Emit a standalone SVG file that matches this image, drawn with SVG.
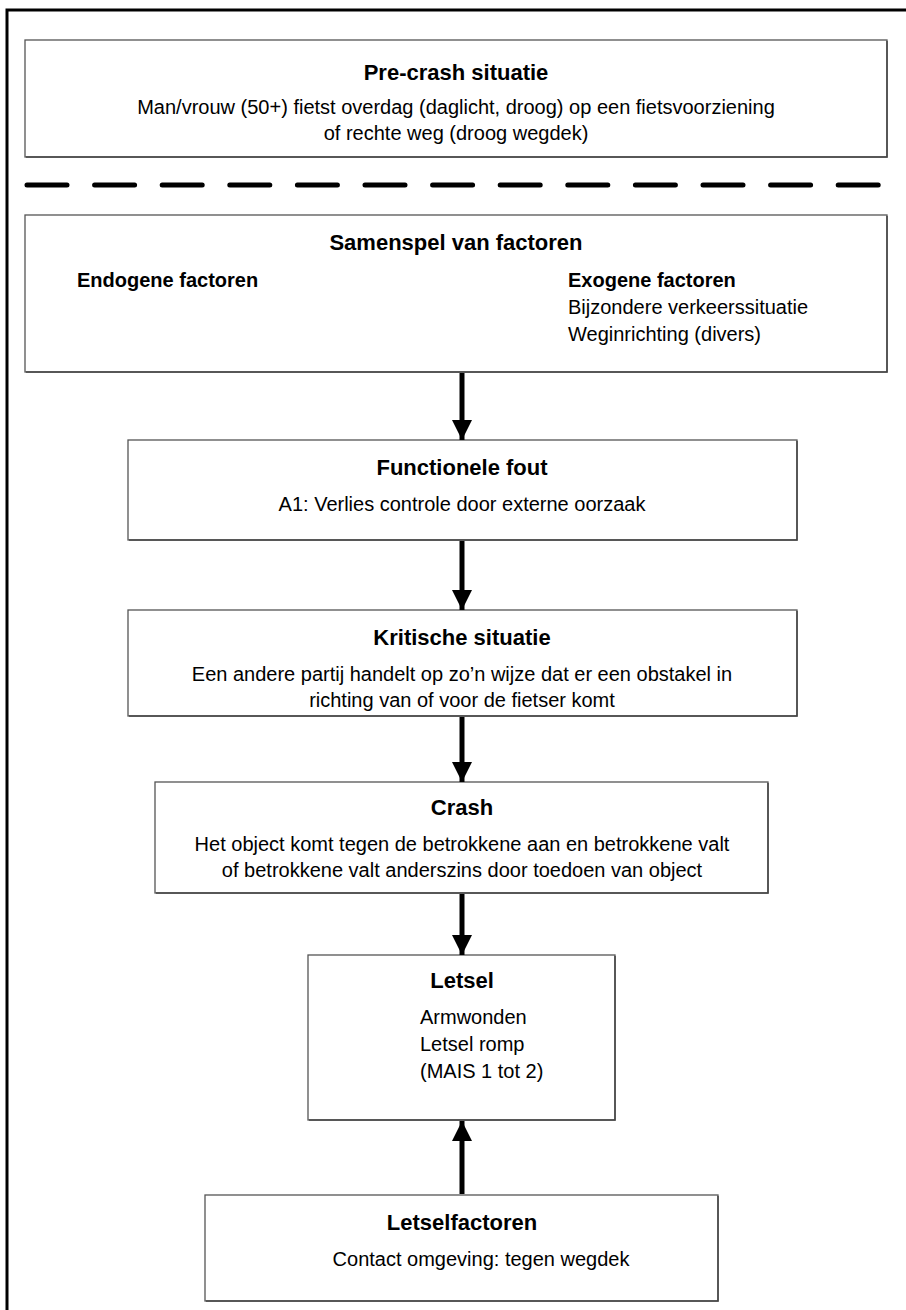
<svg xmlns="http://www.w3.org/2000/svg" width="906" height="1310" viewBox="0 0 906 1310">
<defs>
<style>
.box{fill:#fff;stroke:#555;stroke-width:1.3}
.shadow{fill:none;stroke:#444;stroke-width:1.5}
.t{font-family:"Liberation Sans",Arial,sans-serif;font-size:22px;font-weight:bold;fill:#000;text-anchor:middle}
.b{font-family:"Liberation Sans",Arial,sans-serif;font-size:20px;fill:#000;text-anchor:middle}
.bl{font-family:"Liberation Sans",Arial,sans-serif;font-size:20px;fill:#000}
.hl{font-family:"Liberation Sans",Arial,sans-serif;font-size:20px;font-weight:bold;fill:#000}
.arr{stroke:#000;stroke-width:5;fill:none}
.frame{stroke:#000;stroke-width:3;fill:none}
</style>
<marker id="ah" viewBox="0 0 20 30" refX="20" refY="15" markerWidth="20" markerHeight="30" markerUnits="userSpaceOnUse" orient="auto">
<path d="M0,5 L20,15 L0,25 Z" fill="#000"/>
</marker>
</defs>
<rect width="906" height="1310" fill="#fff"/>
<g id="frame">
<path class="frame" d="M7,1310 L7,10 L906,10"/>
<line x1="27" y1="185" x2="880" y2="185" stroke="#000" stroke-width="5" stroke-linecap="round" stroke-dasharray="40 27.6"/>
</g>
<g id="precrash">
<rect class="box" x="25" y="40" width="862" height="117"/>
<path class="shadow" d="M887,41 L887,157 L26,157"/>
<text class="t" x="456" y="80">Pre-crash situatie</text>
<text class="b" x="456" y="114">Man/vrouw (50+) fietst overdag (daglicht, droog) op een fietsvoorziening</text>
<text class="b" x="456" y="140">of rechte weg (droog wegdek)</text>
</g>
<g id="samenspel">
<rect class="box" x="25" y="215" width="862" height="157"/>
<path class="shadow" d="M887,216 L887,372 L26,372"/>
<text class="t" x="456" y="250">Samenspel van factoren</text>
<text class="hl" x="77" y="287">Endogene factoren</text>
<text class="hl" x="568" y="287">Exogene factoren</text>
<text class="bl" x="568" y="314">Bijzondere verkeerssituatie</text>
<text class="bl" x="568" y="341">Weginrichting (divers)</text>
</g>
<g id="functionele">
<rect class="box" x="128" y="440" width="669" height="100"/>
<path class="shadow" d="M797,441 L797,540 L129,540"/>
<text class="t" x="462" y="475">Functionele fout</text>
<text class="b" x="462" y="511">A1: Verlies controle door externe oorzaak</text>
</g>
<g id="kritische">
<rect class="box" x="128" y="610" width="669" height="106"/>
<path class="shadow" d="M797,611 L797,716 L129,716"/>
<text class="t" x="462" y="645">Kritische situatie</text>
<text class="b" x="462" y="681">Een andere partij handelt op zo’n wijze dat er een obstakel in</text>
<text class="b" x="462" y="707">richting van of voor de fietser komt</text>
</g>
<g id="crash">
<rect class="box" x="155" y="782" width="613" height="111"/>
<path class="shadow" d="M768,783 L768,893 L156,893"/>
<text class="t" x="462" y="815">Crash</text>
<text class="b" x="462" y="851">Het object komt tegen de betrokkene aan en betrokkene valt</text>
<text class="b" x="462" y="877">of betrokkene valt anderszins door toedoen van object</text>
</g>
<g id="letsel">
<rect class="box" x="308" y="955" width="307" height="165"/>
<path class="shadow" d="M615,956 L615,1120 L309,1120"/>
<text class="t" x="462" y="988">Letsel</text>
<text class="bl" x="420" y="1024">Armwonden</text>
<text class="bl" x="420" y="1051">Letsel romp</text>
<text class="bl" x="420" y="1078">(MAIS 1 tot 2)</text>
</g>
<g id="letselfactoren">
<rect class="box" x="205" y="1195" width="513" height="106"/>
<path class="shadow" d="M718,1196 L718,1301 L206,1301"/>
<text class="t" x="462" y="1230">Letselfactoren</text>
<text class="b" x="481" y="1266">Contact omgeving: tegen wegdek</text>
</g>
<g id="connectors">
<line class="arr" x1="462" y1="373" x2="462" y2="440" marker-end="url(#ah)"/>
<line class="arr" x1="462" y1="541" x2="462" y2="610" marker-end="url(#ah)"/>
<line class="arr" x1="462" y1="717" x2="462" y2="782" marker-end="url(#ah)"/>
<line class="arr" x1="462" y1="894" x2="462" y2="955" marker-end="url(#ah)"/>
<line class="arr" x1="462" y1="1194" x2="462" y2="1121" marker-end="url(#ah)"/>
</g>
</svg>
